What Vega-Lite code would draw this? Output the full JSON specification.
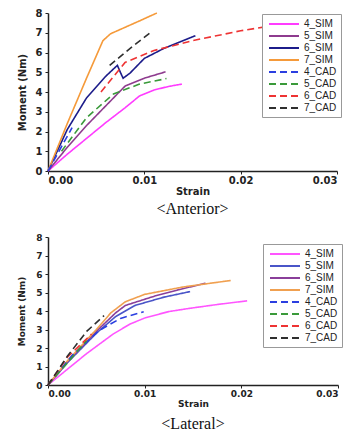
{
  "$schema": "https://vega.github.io/schema/vega-lite/v6.json",
  "padding": {"left": 17, "top": 8, "right": 0, "bottom": 0},
  "background": "white",
  "config": {
    "view": {"stroke": null},
    "axis": {
      "grid": false, "domainColor": "#222", "domainWidth": 1.5, "tickColor": "#222", "tickSize": 3,
      "labelFont": "DejaVu Sans", "labelFontWeight": "bold", "labelFontSize": 9, "labelColor": "#222",
      "titleFont": "DejaVu Sans", "titleFontWeight": "bold", "titleFontSize": 9, "titleColor": "#222"
    },
    "legend": {
      "labelFont": "Liberation Sans", "labelFontSize": 10, "labelColor": "#222",
      "strokeColor": "#999", "fillColor": "white", "padding": 4, "rowPadding": 1,
      "symbolType": "M-3,0H3", "symbolSize": 100, "symbolOffset": 12, "symbolStrokeWidth": 1.8, "labelOffset": 14, "title": null
    },
    "title": {"font": "Liberation Serif", "fontSize": 16, "fontWeight": "normal", "color": "#111"}
  },
  "datasets": {
    "anterior": [
      {"s": "4_SIM", "x": 0, "y": 0}, {"s": "4_SIM", "x": 0.002, "y": 0.85}, {"s": "4_SIM", "x": 0.004, "y": 1.65}, {"s": "4_SIM", "x": 0.006, "y": 2.45}, {"s": "4_SIM", "x": 0.008, "y": 3.2}, {"s": "4_SIM", "x": 0.0095, "y": 3.8}, {"s": "4_SIM", "x": 0.011, "y": 4.1}, {"s": "4_SIM", "x": 0.0125, "y": 4.28}, {"s": "4_SIM", "x": 0.0139, "y": 4.4},
      {"s": "5_SIM", "x": 0, "y": 0}, {"s": "5_SIM", "x": 0.002, "y": 1.2}, {"s": "5_SIM", "x": 0.004, "y": 2.3}, {"s": "5_SIM", "x": 0.006, "y": 3.3}, {"s": "5_SIM", "x": 0.008, "y": 4.3}, {"s": "5_SIM", "x": 0.01, "y": 4.7}, {"s": "5_SIM", "x": 0.0122, "y": 5.02},
      {"s": "6_SIM", "x": 0, "y": 0}, {"s": "6_SIM", "x": 0.002, "y": 2.1}, {"s": "6_SIM", "x": 0.004, "y": 3.7}, {"s": "6_SIM", "x": 0.006, "y": 4.8}, {"s": "6_SIM", "x": 0.0072, "y": 5.35}, {"s": "6_SIM", "x": 0.0076, "y": 4.9}, {"s": "6_SIM", "x": 0.0078, "y": 4.7}, {"s": "6_SIM", "x": 0.0085, "y": 4.95}, {"s": "6_SIM", "x": 0.01, "y": 5.7}, {"s": "6_SIM", "x": 0.012, "y": 6.2}, {"s": "6_SIM", "x": 0.0153, "y": 6.85},
      {"s": "7_SIM", "x": 0, "y": 0}, {"s": "7_SIM", "x": 0.002, "y": 2.4}, {"s": "7_SIM", "x": 0.004, "y": 4.7}, {"s": "7_SIM", "x": 0.0057, "y": 6.6}, {"s": "7_SIM", "x": 0.0065, "y": 6.95}, {"s": "7_SIM", "x": 0.0095, "y": 7.6}, {"s": "7_SIM", "x": 0.0113, "y": 8.0},
      {"s": "4_CAD", "x": 0, "y": 0}, {"s": "4_CAD", "x": 0.0025, "y": 2.2},
      {"s": "5_CAD", "x": 0.0014, "y": 1.0}, {"s": "5_CAD", "x": 0.004, "y": 2.7}, {"s": "5_CAD", "x": 0.0068, "y": 3.9}, {"s": "5_CAD", "x": 0.0095, "y": 4.4}, {"s": "5_CAD", "x": 0.0123, "y": 4.68},
      {"s": "6_CAD", "x": 0.0055, "y": 4.0}, {"s": "6_CAD", "x": 0.008, "y": 5.5}, {"s": "6_CAD", "x": 0.011, "y": 6.1}, {"s": "6_CAD", "x": 0.015, "y": 6.6}, {"s": "6_CAD", "x": 0.02, "y": 7.1}, {"s": "6_CAD", "x": 0.0245, "y": 7.45},
      {"s": "7_CAD", "x": 0.0064, "y": 5.35}, {"s": "7_CAD", "x": 0.0085, "y": 6.2}, {"s": "7_CAD", "x": 0.0108, "y": 7.07}
    ],
    "lateral": [
      {"s": "4_SIM", "x": 0, "y": 0}, {"s": "4_SIM", "x": 0.002, "y": 0.85}, {"s": "4_SIM", "x": 0.004, "y": 1.7}, {"s": "4_SIM", "x": 0.0067, "y": 2.74}, {"s": "4_SIM", "x": 0.0085, "y": 3.3}, {"s": "4_SIM", "x": 0.0101, "y": 3.64}, {"s": "4_SIM", "x": 0.0125, "y": 3.97}, {"s": "4_SIM", "x": 0.0146, "y": 4.14}, {"s": "4_SIM", "x": 0.0175, "y": 4.35}, {"s": "4_SIM", "x": 0.0206, "y": 4.55},
      {"s": "5_SIM", "x": 0, "y": 0}, {"s": "5_SIM", "x": 0.002, "y": 1.2}, {"s": "5_SIM", "x": 0.005, "y": 2.8}, {"s": "5_SIM", "x": 0.007, "y": 3.7}, {"s": "5_SIM", "x": 0.009, "y": 4.3}, {"s": "5_SIM", "x": 0.012, "y": 4.75}, {"s": "5_SIM", "x": 0.0147, "y": 5.05},
      {"s": "6_SIM", "x": 0, "y": 0}, {"s": "6_SIM", "x": 0.002, "y": 1.25}, {"s": "6_SIM", "x": 0.005, "y": 2.9}, {"s": "6_SIM", "x": 0.007, "y": 3.9}, {"s": "6_SIM", "x": 0.008, "y": 4.3}, {"s": "6_SIM", "x": 0.011, "y": 4.8}, {"s": "6_SIM", "x": 0.0135, "y": 5.15}, {"s": "6_SIM", "x": 0.0163, "y": 5.5},
      {"s": "7_SIM", "x": 0, "y": 0}, {"s": "7_SIM", "x": 0.002, "y": 1.3}, {"s": "7_SIM", "x": 0.005, "y": 3.0}, {"s": "7_SIM", "x": 0.0065, "y": 3.9}, {"s": "7_SIM", "x": 0.008, "y": 4.5}, {"s": "7_SIM", "x": 0.01, "y": 4.9}, {"s": "7_SIM", "x": 0.014, "y": 5.3}, {"s": "7_SIM", "x": 0.0189, "y": 5.65},
      {"s": "4_CAD", "x": 0, "y": 0}, {"s": "4_CAD", "x": 0.0025, "y": 1.6}, {"s": "4_CAD", "x": 0.0053, "y": 2.95}, {"s": "4_CAD", "x": 0.0075, "y": 3.6}, {"s": "4_CAD", "x": 0.0099, "y": 3.96},
      {"s": "5_CAD", "x": 0, "y": 0}, {"s": "5_CAD", "x": 0.004, "y": 2.4},
      {"s": "6_CAD", "x": 0, "y": 0}, {"s": "6_CAD", "x": 0.002, "y": 1.5}, {"s": "6_CAD", "x": 0.0045, "y": 2.75},
      {"s": "7_CAD", "x": 0, "y": 0}, {"s": "7_CAD", "x": 0.002, "y": 1.55}, {"s": "7_CAD", "x": 0.004, "y": 2.9}, {"s": "7_CAD", "x": 0.0058, "y": 3.75}
    ]
  },
  "vconcat": [
    {
      "width": 289, "height": 158,
      "data": {"name": "anterior"},
      "title": {"text": "<Anterior>", "orient": "bottom", "offset": 5},
      "mark": {"type": "line", "strokeWidth": 1.6},
      "encoding": {
        "x": {"field": "x", "type": "quantitative", "scale": {"domain": [0, 0.03]}, "axis": {"title": "Strain", "values": [0, 0.01, 0.02, 0.03], "format": ".2f", "titlePadding": 1, "labelPadding": 1, "labelFontSize": 10, "titleFontSize": 10}},
        "y": {"field": "y", "type": "quantitative", "scale": {"domain": [0, 8]}, "axis": {"title": "Moment (Nm)", "values": [0,1,2,3,4,5,6,7,8], "titlePadding": 8, "labelPadding": 3, "labelFontSize": 10, "titleFontSize": 10}},
        "color": {"field": "s", "type": "nominal",
          "scale": {"domain": ["4_SIM","5_SIM","6_SIM","7_SIM","4_CAD","5_CAD","6_CAD","7_CAD"], "range": ["#ff3cff","#8e3b8e","#1c1c8a","#f59a3a","#2b3fe0","#3a9a3a","#ee3333","#2f2f2f"]},
          "legend": {"orient": "none", "legendX": 214, "legendY": 1}},
        "strokeDash": {"field": "s", "type": "nominal",
          "scale": {"domain": ["4_SIM","5_SIM","6_SIM","7_SIM","4_CAD","5_CAD","6_CAD","7_CAD"], "range": [[1,0],[1,0],[1,0],[1,0],[7,4],[7,4],[7,4],[7,4]]},
          "legend": {"orient": "none", "legendX": 214, "legendY": 1}},
        "order": {"field": "x", "type": "quantitative"}
      }
    },
    {
      "width": 290, "height": 148,
      "data": {"name": "lateral"},
      "title": {"text": "<Lateral>", "orient": "bottom", "offset": 8},
      "mark": {"type": "line", "strokeWidth": 1.6},
      "encoding": {
        "x": {"field": "x", "type": "quantitative", "scale": {"domain": [0, 0.03]}, "axis": {"title": "Strain", "values": [0, 0.01, 0.02, 0.03], "format": ".2f", "titlePadding": 1, "labelPadding": 1}},
        "y": {"field": "y", "type": "quantitative", "scale": {"domain": [0, 8]}, "axis": {"title": "Moment (Nm)", "values": [0,1,2,3,4,5,6,7,8], "titlePadding": 9, "labelPadding": 3}},
        "color": {"field": "s", "type": "nominal",
          "scale": {"domain": ["4_SIM","5_SIM","6_SIM","7_SIM","4_CAD","5_CAD","6_CAD","7_CAD"], "range": ["#ff55ff","#4a55c8","#8a3f9a","#f0a050","#2b3fe0","#3a9a3a","#ee3333","#2f2f2f"]},
          "legend": {"orient": "none", "legendX": 215, "legendY": 7}},
        "strokeDash": {"field": "s", "type": "nominal",
          "scale": {"domain": ["4_SIM","5_SIM","6_SIM","7_SIM","4_CAD","5_CAD","6_CAD","7_CAD"], "range": [[1,0],[1,0],[1,0],[1,0],[7,4],[7,4],[7,4],[7,4]]},
          "legend": {"orient": "none", "legendX": 215, "legendY": 7}},
        "order": {"field": "x", "type": "quantitative"}
      }
    }
  ],
  "spacing": 16,
  "resolve": {"scale": {"color": "independent", "strokeDash": "independent"}, "legend": {"color": "independent", "strokeDash": "independent"}}
}
